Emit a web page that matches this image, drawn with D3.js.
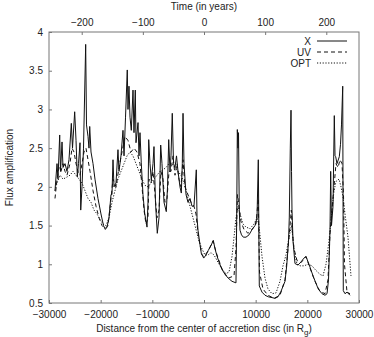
<!DOCTYPE html>
<html>
<head>
<meta charset="utf-8">
<script src="https://cdn.jsdelivr.net/npm/d3@7/dist/d3.min.js"></script>
<style>
  body { margin: 0; background: #fff; }
  svg { display: block; font-family: "Liberation Sans", Arial, sans-serif; }
  .axis text { font-size: 10px; fill: #222; }
  .axis path, .axis line { stroke: #777; }
</style>
</head>
<body>
<svg id="chart"></svg>
<script>
// Distance (in Rg) and flux amplification
const xDist = [-28840,-28450,-28260,-27930,-27770,-27480,-27290,-26900,-26520,-26130,-25680,-25450,-25030,-24770,-24520,-24290,-24000,-23860,-23610,-23320,-22900,-22740,-22450,-22260,-22120,-21870,-21480,-21100,-20520,-19940,-19450,-19100,-18770,-18390,-18000,-17810,-17610,-17420,-17030,-16650,-16450,-16070,-15680,-15480,-15190,-14850,-14710,-14520,-14320,-14070,-13740,-13550,-13300,-13160,-12770,-12580,-12390,-12140,-11810,-11480,-11030,-10840,-10700,-10450,-10200,-9870,-9680,-9390,-9040,-8710,-8380,-8130,-7740,-7300,-7060,-6830,-6580,-6390,-6140,-5900,-5610,-5320,-5030,-4650,-4390,-4200,-4060,-3870,-3480,-3100,-2710,-2320,-1940,-1490,-1350,-1160,-770,-520,-60,390,830,1350,1800,2130,2460,2900,3430,4060,4700,5420,6190,6330,6450,6580,6680,6830,6970,7260,7610,8130,8710,9230,9870,10260,10510,10700,11230,11810,12450,13160,13740,14320,14900,15680,16010,16360,16510,16700,16840,16940,17030,17230,17610,18190,18770,19350,19740,20320,21160,22120,22840,23420,23810,24100,24390,24520,24680,24970,25220,25360,25490,25740,26190,26420,26610,26850,26960,27290,27680,28260];
const xFlux = [1.95,2.3,2.1,2.67,2.2,2.58,2.25,2.3,2.2,2.35,2.82,2.5,2.97,2.6,2.13,2.3,2.57,1.7,2.0,2.5,3.84,2.8,2.65,2.5,2.78,2.45,2.3,2.1,1.85,1.65,1.5,1.45,1.48,1.6,1.9,1.9,2.35,2.0,2.05,2.48,2.2,2.4,2.73,2.4,2.9,3.51,3.0,3.3,2.9,2.73,3.25,2.7,3.25,2.57,2.83,2.4,2.7,2.31,1.9,1.66,1.48,1.8,2.61,2.3,2.09,2.3,2.52,1.8,1.4,1.6,2.54,2.3,1.8,1.68,2.0,2.61,2.2,2.4,2.95,2.3,2.25,2.4,2.2,2.0,1.92,2.3,2.95,2.3,1.9,1.8,1.85,1.75,1.75,2.22,1.6,1.44,1.25,1.14,1.08,1.12,1.18,1.24,1.31,1.2,1.12,1.03,0.94,0.87,0.82,0.78,0.76,1.6,2.74,2.5,2.7,1.7,1.44,1.38,1.35,1.35,1.38,1.44,1.5,1.6,2.35,0.72,0.64,0.6,0.58,0.57,0.56,0.58,0.65,0.78,0.98,1.3,1.61,2.5,2.99,2.2,1.7,1.3,1.01,0.99,1.03,1.08,1.1,1.0,0.84,0.68,0.62,0.6,0.62,0.8,1.44,2.2,1.5,1.75,2.92,2.4,2.39,2.3,2.39,2.55,2.8,3.3,0.66,0.62,0.64,0.62];

const uvDist = [-28840,-28450,-28060,-27680,-27290,-26900,-26520,-25940,-25550,-25160,-24770,-24390,-24000,-23610,-23230,-22840,-22450,-22060,-21480,-20900,-20320,-19740,-19160,-18580,-18000,-17610,-17030,-16450,-15870,-15290,-14710,-14130,-13550,-12970,-12390,-12000,-11610,-11230,-10840,-10650,-10260,-9870,-9480,-9100,-8710,-8320,-7940,-7550,-7160,-6770,-6390,-6000,-5610,-5230,-4840,-4450,-4060,-3680,-3100,-2520,-1940,-1550,-1160,-770,-390,0,770,1740,2520,3480,4650,5810,6190,6480,6770,7160,7740,8520,9290,10060,10510,10740,11420,12390,13550,14710,15680,16260,16650,16900,17130,17420,18000,18770,19740,20520,21480,22450,23420,24000,24390,24770,25160,25550,25940,26320,26710,27000,27190,27680,28260];
const uvFlux = [1.85,2.1,2.25,2.2,2.3,2.2,2.15,2.3,2.5,2.45,2.3,2.2,2.15,2.3,2.45,2.5,2.35,2.2,1.95,1.75,1.6,1.5,1.46,1.5,1.85,2.1,2.0,2.25,2.45,2.65,2.6,2.45,2.5,2.45,2.3,2.0,1.7,1.52,1.6,2.1,2.05,2.2,1.9,1.6,1.7,2.2,2.1,1.8,1.85,2.2,2.2,2.4,2.15,2.3,2.1,2.0,2.35,2.0,1.9,1.8,1.75,1.65,1.4,1.25,1.12,1.1,1.17,1.3,1.12,0.94,0.82,0.85,1.2,1.9,1.75,1.55,1.45,1.4,1.45,1.52,1.85,0.9,0.68,0.6,0.56,0.6,0.8,1.2,1.5,1.7,1.4,1.2,1.05,1.02,1.1,0.95,0.78,0.65,0.62,0.8,1.4,1.7,2.0,2.3,2.25,2.35,2.3,1.9,1.0,0.64,0.6];

const optDist = [-28840,-28450,-27870,-27290,-26710,-25940,-25360,-24770,-24190,-23610,-23030,-22450,-21870,-21290,-20710,-20130,-19550,-18970,-18390,-17810,-17230,-16650,-16070,-15480,-14900,-14320,-13740,-13160,-12580,-12000,-11420,-10840,-10260,-9680,-9100,-8520,-7940,-7350,-6770,-6190,-5610,-5030,-4450,-3870,-3290,-2710,-2130,-1550,-970,-390,190,770,1350,1940,2520,3100,3680,4260,4840,5420,5810,6190,6580,6970,7550,8130,8900,9680,10260,10650,11230,11810,12390,13160,13940,14710,15290,15870,16450,16940,17420,18000,18580,19350,20130,20900,21680,22450,23030,23610,24190,24770,25160,25550,26130,26520,26900,27290,27870,28450];
const optFlux = [1.95,2.05,2.15,2.1,2.12,2.15,2.2,2.15,2.1,2.05,1.95,1.85,1.8,1.7,1.65,1.58,1.52,1.5,1.6,1.8,1.95,2.1,2.2,2.3,2.4,2.45,2.4,2.3,2.2,2.1,2.02,2.0,2.05,2.1,2.15,2.2,2.22,2.25,2.3,2.3,2.25,2.2,2.15,2.05,1.9,1.75,1.6,1.45,1.3,1.2,1.12,1.12,1.15,1.12,1.05,0.98,0.92,0.88,0.9,1.1,1.35,1.6,1.75,1.65,1.52,1.48,1.46,1.52,1.6,1.5,1.1,0.82,0.68,0.62,0.63,0.78,0.98,1.12,1.35,1.5,1.2,1.0,0.98,0.98,1.0,0.98,0.92,0.87,0.85,1.0,1.3,1.7,1.95,2.07,2.1,2.0,1.87,1.65,1.35,0.85];

const distTicks = [-30000, -20000, -10000, 0, 10000, 20000, 30000];
const fluxTicks = [0.5, 1, 1.5, 2, 2.5, 3, 3.5, 4];
const yearTicks = [-200, -100, 0, 100, 200];

const series = [
  { name: "X", dist: xDist, flux: xFlux, dash: null },
  { name: "UV", dist: uvDist, flux: uvFlux, dash: "4,3" },
  { name: "OPT", dist: optDist, flux: optFlux, dash: "1.2,1.6" }
];

const W = 374, H = 337;
const margin = { top: 32, right: 15, bottom: 34, left: 49 };
const width = W - margin.left - margin.right;
const height = H - margin.top - margin.bottom;

const svg = d3.select("#chart").attr("width", W).attr("height", H);
const g = svg.append("g").attr("transform", `translate(${margin.left},${margin.top})`);

// Scales
const x = d3.scaleLinear().domain([-30000, 30000]).range([0, width]);
const x2 = d3.scaleLinear().domain([-253.5, 253.5]).range([0, width]);
const y = d3.scaleLinear().domain([0.5, 4]).range([height, 0]);

// Axes (ticks point inwards, gnuplot style)
g.append("g")
  .attr("class", "axis")
  .attr("transform", `translate(0,${height})`)
  .call(d3.axisBottom(x).tickValues(distTicks).tickSize(-3).tickPadding(8).tickFormat(d3.format("d")))
  .call(a => a.select(".domain").remove());

g.append("g")
  .attr("class", "axis")
  .call(d3.axisTop(x2).tickValues(yearTicks).tickSize(-3).tickPadding(6).tickFormat(d3.format("d")))
  .call(a => a.select(".domain").remove());

g.append("g")
  .attr("class", "axis")
  .call(d3.axisLeft(y).tickValues(fluxTicks).tickSize(-3).tickPadding(6).tickFormat(d => d))
  .call(a => a.select(".domain").remove());

// Frame
g.append("rect")
  .attr("width", width)
  .attr("height", height)
  .attr("fill", "none")
  .attr("stroke", "#777")
  .attr("stroke-width", 1);

// Curves
const line = d3.line()
  .x(d => x(d[0]))
  .y(d => y(d[1]));

g.selectAll(".curve")
  .data(series)
  .enter().append("path")
  .attr("class", "curve")
  .attr("d", s => line(d3.zip(s.dist, s.flux)))
  .attr("fill", "none")
  .attr("stroke", "#111")
  .attr("stroke-width", 1)
  .attr("stroke-linejoin", "round")
  .attr("stroke-dasharray", s => s.dash);

// Legend
const legend = g.append("g").attr("transform", `translate(${width - 48}, 9)`);
const items = legend.selectAll(".legend-item")
  .data(series)
  .enter().append("g")
  .attr("class", "legend-item")
  .attr("transform", (d, i) => `translate(0, ${i * 11})`);

items.append("text")
  .attr("x", 0)
  .attr("y", 4)
  .attr("text-anchor", "end")
  .style("font-size", "10px")
  .style("fill", "#222")
  .text(d => d.name);

items.append("line")
  .attr("x1", 6)
  .attr("x2", 36)
  .attr("stroke", "#111")
  .attr("stroke-width", 1)
  .attr("stroke-dasharray", d => d.dash);

// Axis titles
svg.append("text")
  .attr("x", margin.left + width / 2)
  .attr("y", 10)
  .attr("text-anchor", "middle")
  .style("font-size", "10px")
  .style("fill", "#222")
  .text("Time (in years)");

const xl = svg.append("text")
  .attr("x", margin.left + width / 2)
  .attr("y", 332)
  .attr("text-anchor", "middle")
  .style("font-size", "10px")
  .style("fill", "#222")
  .text("Distance from the center of accretion disc (in R");
xl.append("tspan").attr("dy", 3).style("font-size", "8px").text("g");
xl.append("tspan").attr("dy", -3).text(")");

svg.append("text")
  .attr("transform", `translate(13,${margin.top + height / 2}) rotate(-90)`)
  .attr("text-anchor", "middle")
  .style("font-size", "10px")
  .style("fill", "#222")
  .text("Flux amplification");
</script>
</body>
</html>
